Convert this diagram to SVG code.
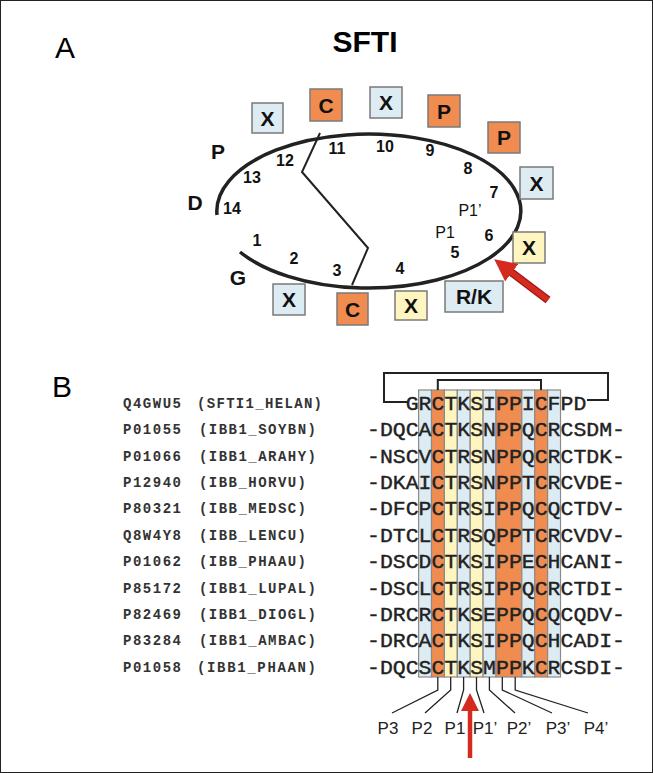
<svg xmlns="http://www.w3.org/2000/svg" width="653" height="773" viewBox="0 0 653 773">
<style>
.bx{stroke:#7a7a7a;stroke-width:1.5}
.o{fill:#F08C50}.b{fill:#DDEBF3}.y{fill:#FFF5C0}
.bl{font-family:"Liberation Sans",Arial,sans-serif;font-weight:bold;font-size:21px;text-anchor:middle;fill:#111}
.n{font-family:"Liberation Sans",Arial,sans-serif;font-weight:bold;font-size:16px;text-anchor:middle;fill:#111}
.p{font-family:"Liberation Sans",Arial,sans-serif;font-size:16px;text-anchor:middle;fill:#111}
.seq{font-family:"Liberation Mono","Courier New",monospace;font-size:21px;fill:#222;stroke:#222;stroke-width:0.4}
.id{font-family:"Liberation Mono","Courier New",monospace;font-weight:bold;font-size:14px;fill:#333}
.ln{fill:none;stroke:#222}
.col{stroke:#8a8a8a;stroke-width:1.2}
</style>
<defs>
<marker id="ah" markerWidth="4" markerHeight="4" refX="2" refY="2" orient="auto"><path d="M0,0 L4,2 L0,4 Z" fill="#D42A20"/></marker>
</defs>
<rect x="0.5" y="0.5" width="652" height="772" fill="#fff" stroke="#222"/>
<text x="55" y="58" font-family="Liberation Sans,Arial,sans-serif" font-size="30">A</text>
<text x="365" y="52" font-family="Liberation Sans,Arial,sans-serif" font-size="30" font-weight="bold" text-anchor="middle">SFTI</text>
<text x="52" y="397" font-family="Liberation Sans,Arial,sans-serif" font-size="30">B</text>

<g id="ring">
<path class="ln" d="M217 215 A152 77 0 1 1 240 252" stroke-width="3.5"/>
<path class="ln" d="M320 133 L302 172 L368 248 L352 285" stroke-width="2"/>
<text class="n" x="337" y="154">11</text><text class="n" x="385" y="152">10</text>
<text class="n" x="430" y="156">9</text><text class="n" x="468" y="174">8</text>
<text class="n" x="494" y="198">7</text><text class="p" x="470" y="216">P1’</text>
<text class="n" x="489" y="241">6</text><text class="p" x="445" y="238">P1</text>
<text class="n" x="455" y="258">5</text><text class="n" x="400" y="274">4</text>
<text class="n" x="337" y="276">3</text><text class="n" x="294" y="264">2</text>
<text class="n" x="257" y="246">1</text><text class="n" x="285" y="166">12</text>
<text class="n" x="252" y="183">13</text><text class="n" x="232" y="214">14</text>
<text class="bl" x="218" y="159">P</text><text class="bl" x="195" y="210">D</text>
<text class="bl" x="238" y="285">G</text>
</g>
<g id="boxes">
<rect class="bx b" x="252" y="103" width="31" height="30"/><text class="bl" x="267.5" y="126">X</text>
<rect class="bx o" x="310" y="89" width="32" height="32"/><text class="bl" x="326" y="113">C</text>
<rect class="bx b" x="370" y="87" width="32" height="31"/><text class="bl" x="386" y="110">X</text>
<rect class="bx o" x="428" y="95" width="32" height="32"/><text class="bl" x="444" y="119">P</text>
<rect class="bx o" x="488" y="122" width="32" height="31"/><text class="bl" x="504" y="145">P</text>
<rect class="bx b" x="520" y="167" width="33" height="32"/><text class="bl" x="536.5" y="191">X</text>
<rect class="bx y" x="513" y="232" width="32" height="31"/><text class="bl" x="529" y="255">X</text>
<rect class="bx b" x="445" y="281" width="58" height="31"/><text class="bl" x="474" y="304">R/K</text>
<rect class="bx y" x="395" y="291" width="32" height="29"/><text class="bl" x="411" y="313">X</text>
<rect class="bx o" x="337" y="293" width="31" height="32"/><text class="bl" x="352.5" y="317">C</text>
<rect class="bx b" x="273" y="284" width="32" height="31"/><text class="bl" x="289" y="307">X</text>
</g>
<g id="arrowA">
<line x1="548" y1="300" x2="503" y2="266" stroke="#9a1a14" stroke-width="8"/>
<line x1="548" y1="300" x2="503" y2="266" stroke="#D42A20" stroke-width="5.5" marker-end="url(#ah)"/>
</g>

<g id="columns">
<rect class="col b" x="418.6" y="390" width="12.9" height="287"/>
<rect class="col o" x="431.5" y="390" width="12.9" height="287"/>
<rect class="col y" x="444.4" y="390" width="12.9" height="287"/>
<rect class="col b" x="457.3" y="390" width="12.9" height="287"/>
<rect class="col y" x="470.2" y="390" width="12.9" height="287"/>
<rect class="col b" x="483.1" y="390" width="12.9" height="287"/>
<rect class="col o" x="496" y="390" width="25.8" height="287"/>
<rect class="col b" x="521.8" y="390" width="12.9" height="287"/>
<rect class="col o" x="534.7" y="390" width="12.9" height="287"/>
<rect class="col b" x="547.6" y="390" width="12.9" height="287"/>
</g>
<g id="brackets">
<path class="ln" stroke-width="2" d="M437.8 390 V380 H541 V390"/>
<path class="ln" stroke-width="2" d="M408 402 H384 V373 H608 V400 H587"/>
</g>
<g id="alignment">
<text class="id" y="408"><tspan x="123" textLength="58">Q4GWU5</tspan><tspan x="197" textLength="125">(SFTI1_HELAN)</tspan></text>
<text class="id" y="434"><tspan x="123" textLength="58">P01055</tspan><tspan x="199" textLength="117">(IBB1_SOYBN)</tspan></text>
<text class="id" y="461"><tspan x="123" textLength="58">P01066</tspan><tspan x="199" textLength="117">(IBB1_ARAHY)</tspan></text>
<text class="id" y="487"><tspan x="123" textLength="58">P12940</tspan><tspan x="199" textLength="107">(IBB_HORVU)</tspan></text>
<text class="id" y="513"><tspan x="123" textLength="58">P80321</tspan><tspan x="199" textLength="107">(IBB_MEDSC)</tspan></text>
<text class="id" y="540"><tspan x="123" textLength="58">Q8W4Y8</tspan><tspan x="199" textLength="107">(IBB_LENCU)</tspan></text>
<text class="id" y="566"><tspan x="123" textLength="58">P01062</tspan><tspan x="199" textLength="107">(IBB_PHAAU)</tspan></text>
<text class="id" y="593"><tspan x="123" textLength="58">P85172</tspan><tspan x="199" textLength="117">(IBB1_LUPAL)</tspan></text>
<text class="id" y="619"><tspan x="123" textLength="58">P82469</tspan><tspan x="199" textLength="117">(IBB1_DIOGL)</tspan></text>
<text class="id" y="645"><tspan x="123" textLength="58">P83284</tspan><tspan x="199" textLength="117">(IBB1_AMBAC)</tspan></text>
<text class="id" y="672"><tspan x="123" textLength="58">P01058</tspan><tspan x="197" textLength="119">(IBB1_PHAAN)</tspan></text>
<text class="seq" x="405.7" y="410" textLength="180.6" lengthAdjust="spacingAndGlyphs">GRCTKSIPPICFPD</text>
<text class="seq" x="367" y="436" textLength="258" lengthAdjust="spacingAndGlyphs">-DQCACTKSNPPQCRCSDM-</text>
<text class="seq" x="367" y="463" textLength="258" lengthAdjust="spacingAndGlyphs">-NSCVCTRSNPPQCRCTDK-</text>
<text class="seq" x="367" y="489" textLength="258" lengthAdjust="spacingAndGlyphs">-DKAICTRSNPPTCRCVDE-</text>
<text class="seq" x="367" y="515" textLength="258" lengthAdjust="spacingAndGlyphs">-DFCPCTRSIPPQCQCTDV-</text>
<text class="seq" x="367" y="542" textLength="258" lengthAdjust="spacingAndGlyphs">-DTCLCTRSQPPTCRCVDV-</text>
<text class="seq" x="367" y="568" textLength="258" lengthAdjust="spacingAndGlyphs">-DSCDCTKSIPPECHCANI-</text>
<text class="seq" x="367" y="595" textLength="258" lengthAdjust="spacingAndGlyphs">-DSCLCTRSIPPQCRCTDI-</text>
<text class="seq" x="367" y="621" textLength="258" lengthAdjust="spacingAndGlyphs">-DRCRCTKSEPPQCQCQDV-</text>
<text class="seq" x="367" y="647" textLength="258" lengthAdjust="spacingAndGlyphs">-DRCACTKSIPPQCHCADI-</text>
<text class="seq" x="367" y="674" textLength="258" lengthAdjust="spacingAndGlyphs">-DQCSCTKSMPPKCRCSDI-</text>
</g>
<g id="ticks" class="ln" stroke-width="1.3">
<path d="M437.8 677 V690 L392 713"/>
<path d="M450.7 677 V690 L425 713"/>
<path d="M463.6 677 V690 L457 713"/>
<path d="M476.5 677 V690 L484 713"/>
<path d="M489.4 677 V690 L515 713"/>
<path d="M502.3 677 V690 L552 713"/>
<path d="M515.2 677 V690 L588 713"/>
</g>
<g id="plabels" font-family="Liberation Sans,Arial,sans-serif" font-size="17" text-anchor="middle" fill="#222">
<text x="388" y="734">P3</text><text x="422" y="734">P2</text><text x="455" y="734">P1</text>
<text x="485" y="734">P1’</text><text x="519" y="734">P2’</text><text x="558" y="734">P3’</text><text x="596" y="734">P4’</text>
</g>
<g id="arrowB">
<line x1="470" y1="758" x2="470" y2="702" stroke="#D42A20" stroke-width="4.5" marker-end="url(#ah)"/>
</g>
</svg>
